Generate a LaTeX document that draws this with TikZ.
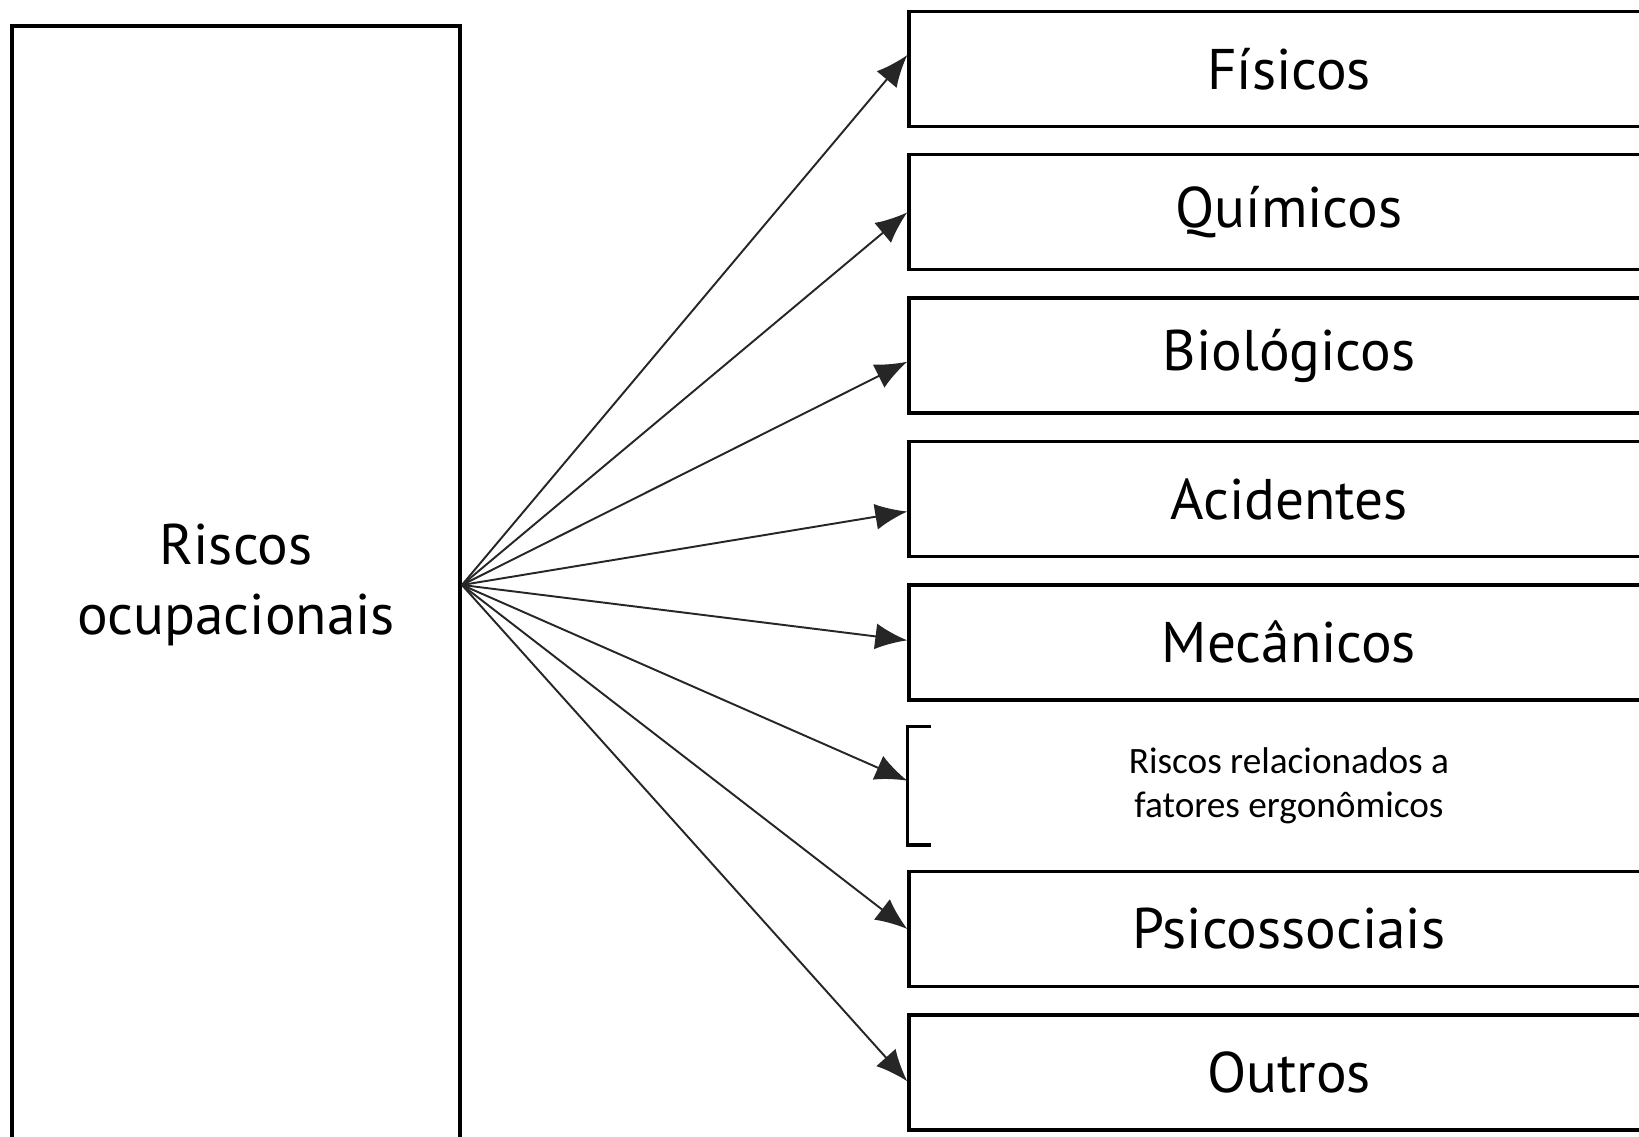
\documentclass[tikz,border=0pt]{standalone}
\usepackage{fontspec}
\setmainfont{PT Sans}
\newfontfamily\calibrifont{Carlito}
\usetikzlibrary{positioning}
\usetikzlibrary{arrows.meta}

\begin{document}
\begin{tikzpicture}[
  >=Latex,
  node distance=0.25cm,
  every node/.style={font=\fontsize{16.3}{20}\selectfont},
  riskbox/.style={rectangle, draw, line width=1.1pt, minimum width=4.48cm, minimum height=11.18cm, align=center, inner sep=0pt},
  catbox/.style={rectangle, draw, line width=0.95pt, minimum width=7.6cm, minimum height=1.15cm, inner sep=0pt},
  openbox/.style={catbox, draw=none, align=center, font=\calibrifont\fontsize{10.6}{12.5}\selectfont},
  bracket/.style={line width=0.95pt},
  link/.style={-{Latex[length=3.2mm,width=2.6mm]}, line width=0.55pt, black!85}
]

\clip (0,0) rectangle (16.39,11.37);

% ---------- Source box ----------
\node[riskbox] (risk) at (2.36,5.52) {Riscos\\ocupacionais};

% ---------- Categories ----------
\node[catbox] (fis) at (12.89,10.68) {Físicos};
\node[catbox] (qui) [below=of fis] {Químicos};
\node[catbox] (bio) [below=of qui] {Biológicos};
\node[catbox] (aci) [below=of bio] {Acidentes};
\node[catbox] (mec) [below=of aci] {Mecânicos};
\node[openbox] (ergo) [below=of mec] {Riscos relacionados a\\fatores ergonômicos};
\node[catbox] (psi) [below=of ergo] {Psicossociais};
\node[catbox] (out) [below=of psi] {Outros};

% open box: only the left bracket
\draw[bracket] ([xshift=2.4mm]ergo.north west) -- (ergo.north west) -- (ergo.south west) -- ([xshift=2.4mm]ergo.south west);

% ---------- Arrows ----------
\foreach \t/\dy in {fis/0.14,qui/0,bio/-0.06,aci/-0.125,mec/0.02,ergo/0.05,psi/0,out/-0.09}
  \draw[link] (risk.east) -- ([yshift=\dy cm]\t.west);

\end{tikzpicture}
\end{document}
